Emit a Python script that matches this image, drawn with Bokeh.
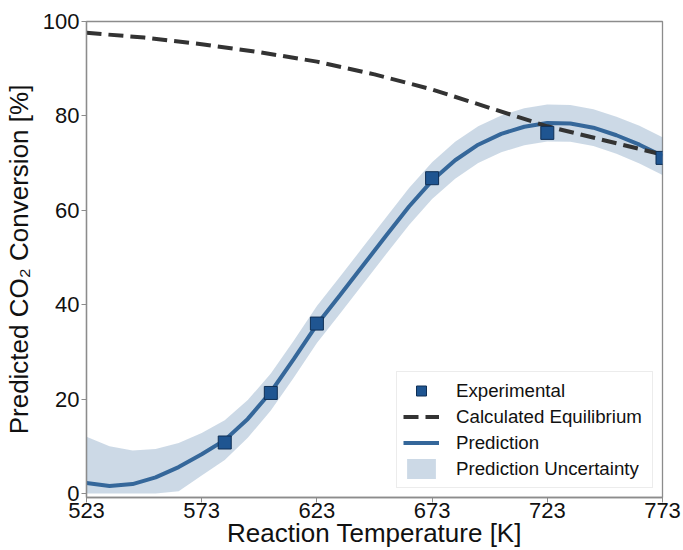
from bokeh.plotting import figure
from bokeh.models import Legend, LegendItem, FixedTicker, Range1d
from bokeh.embed import file_html
from bokeh.resources import INLINE

# ---- data ----
temps = [523, 533, 543, 553, 563, 573, 583, 593, 603, 613, 623, 633, 643,
         653, 663, 673, 683, 693, 703, 713, 723, 733, 743, 753, 763, 773]
pred = [2.2, 1.6, 2.0, 3.4, 5.6, 8.3, 11.3, 15.8, 21.5, 28.5, 35.8, 42.0, 48.3,
        54.6, 60.8, 66.3, 70.6, 73.9, 76.2, 77.7, 78.5, 78.4, 77.5, 75.9, 73.9, 71.5]
half_width = [9.8, 8.4, 7.1, 6.0, 5.1, 4.5, 4.2, 4.0, 3.9, 3.9, 3.9, 3.9, 3.9,
              3.9, 3.9, 3.9, 3.9, 3.9, 3.9, 3.9, 3.9, 3.9, 3.9, 3.9, 4.0, 4.0]

eq_temps = [523, 548, 573, 598, 623, 648, 673, 698, 723, 748, 773]
eq_conv = [97.6, 96.6, 95.2, 93.5, 91.5, 88.8, 85.6, 81.7, 77.8, 74.8, 71.8]

exp_temps = [583, 603, 623, 673, 723, 773]
exp_conv = [10.8, 21.3, 36.0, 66.8, 76.4, 71.1]

x_ticks = [523, 573, 623, 673, 723, 773]
y_ticks = [0, 20, 40, 60, 80, 100]

x_title = "Reaction Temperature [K]"
y_title = "Predicted CO\u2082 Conversion [%]"

upper = [m + h for m, h in zip(pred, half_width)]
lower = [max(0.0, m - h) for m, h in zip(pred, half_width)]

FONT = "Liberation Sans"
GREY = "#8c8c8c"
BLUE = "#35679a"

p = figure(width=683, height=550, output_backend="svg", toolbar_location=None,
           x_range=Range1d(523, 773), y_range=Range1d(-0.85, 100),
           min_border_left=86, min_border_right=21, min_border_top=21,
           min_border_bottom=52)
p.xgrid.visible = False
p.ygrid.visible = False
p.outline_line_color = GREY
p.outline_line_width = 1.3

band = p.varea(x=temps, y1=lower, y2=upper, fill_color=BLUE, fill_alpha=0.25)
pline = p.line(temps, pred, line_color=BLUE, line_width=4)
eqline = p.line(eq_temps, eq_conv, line_color="#333333", line_width=4, line_dash="15 7")
pts = p.scatter(exp_temps, exp_conv, marker="square", size=13,
                fill_color="#1f5591", line_color="#0f2f55", line_width=1)

for ax in (p.xaxis[0], p.yaxis[0]):
    ax.axis_line_color = GREY
    ax.axis_line_width = 1.3
    ax.major_tick_line_color = GREY
    ax.major_tick_out = 5
    ax.major_tick_in = 0
    ax.minor_tick_line_color = None
    ax.major_label_text_font = FONT
    ax.major_label_text_font_size = "22px"
    ax.major_label_text_color = "#111111"
    ax.axis_label_text_font = FONT
    ax.axis_label_text_font_size = "26px"
    ax.axis_label_text_font_style = "normal"
    ax.axis_label_text_color = "#111111"

p.xaxis.ticker = FixedTicker(ticks=x_ticks)
p.yaxis.ticker = FixedTicker(ticks=y_ticks)
p.xaxis.axis_label = x_title
p.yaxis.axis_label = y_title
p.xaxis.major_label_standoff = 0
p.xaxis.axis_label_standoff = -3
p.yaxis.major_label_standoff = 2
p.yaxis.axis_label_standoff = 6

legend = Legend(items=[
    LegendItem(label="Experimental", renderers=[pts]),
    LegendItem(label="Calculated Equilibrium", renderers=[eqline]),
    LegendItem(label="Prediction", renderers=[pline]),
    LegendItem(label="Prediction Uncertainty", renderers=[band]),
], location="bottom_right")
legend.label_text_font = FONT
legend.label_text_font_size = "18.7px"
legend.label_text_color = "#111111"
legend.glyph_width = 36
legend.glyph_height = 25
legend.label_height = 25
legend.label_width = 190
legend.spacing = 1
legend.padding = 6
legend.margin = 9
legend.label_standoff = 17
legend.border_line_color = "#d9d9d9"
legend.border_line_width = 1
legend.background_fill_alpha = 0.9
p.add_layout(legend)

open("out.html", "w").write(file_html(p, INLINE))
